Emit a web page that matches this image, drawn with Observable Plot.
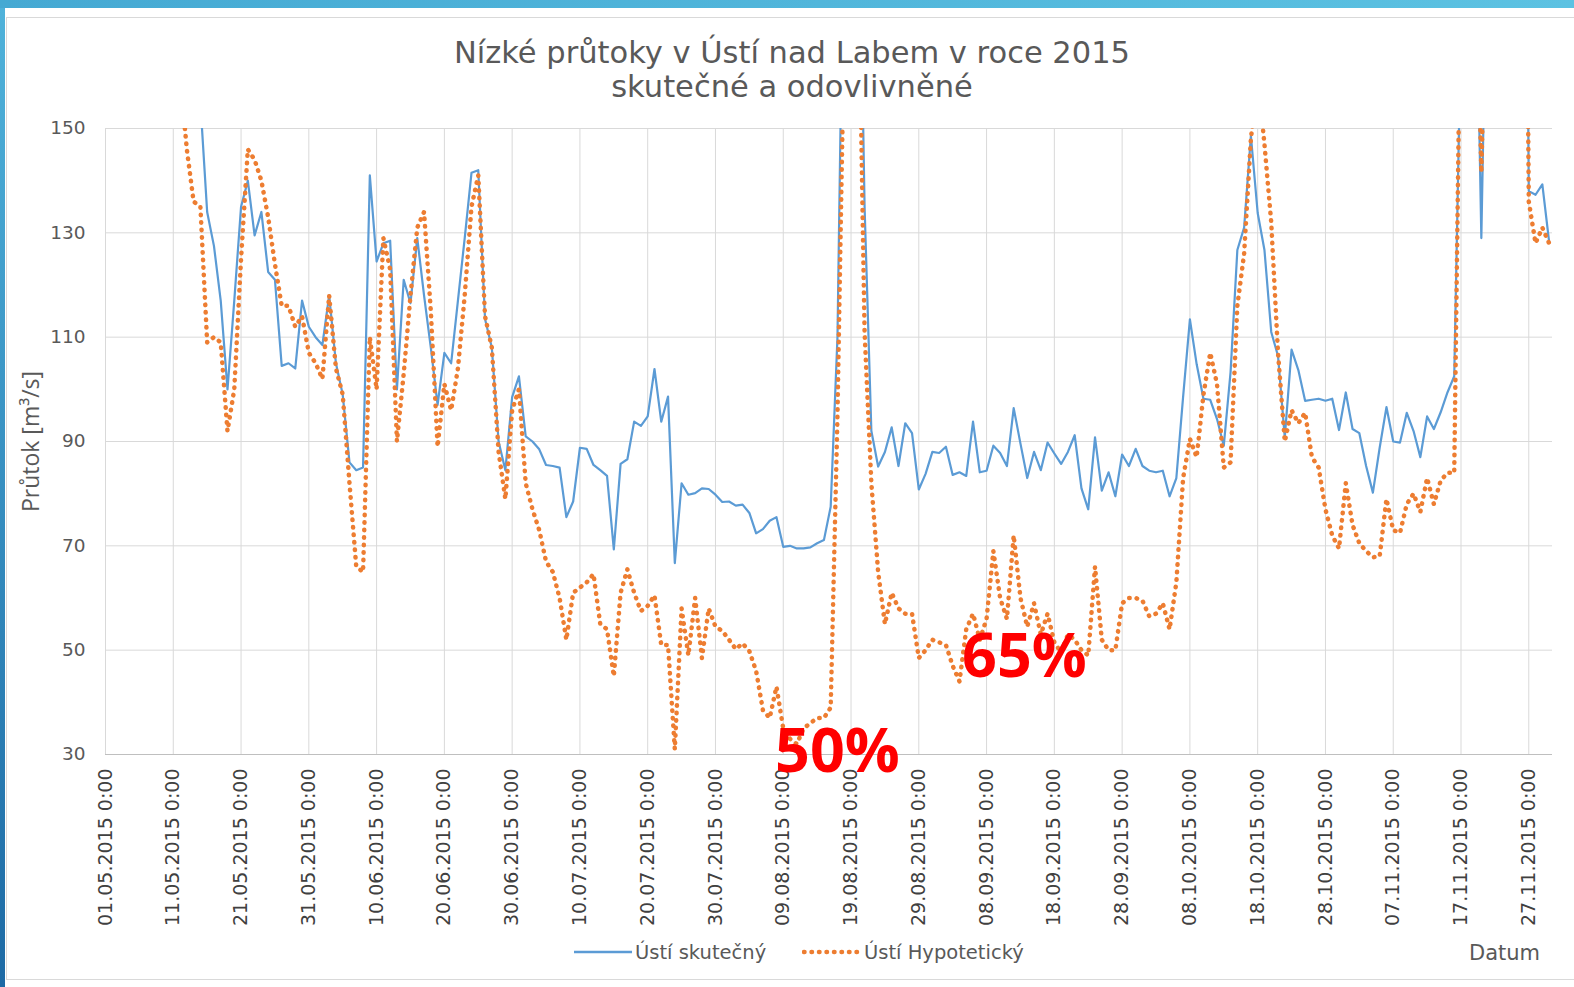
<!DOCTYPE html>
<html>
<head>
<meta charset="utf-8">
<script src="https://cdn.jsdelivr.net/npm/d3@7"></script>
<script src="https://cdn.jsdelivr.net/npm/@observablehq/plot@0.6"></script>
<style>
  html, body { margin: 0; padding: 0; background: #fff; }
  #page { position: relative; width: 1574px; height: 987px; overflow: hidden; background: #fff; font-family: "DejaVu Sans", Verdana, sans-serif; }
  #band { position: absolute; left: 0; top: 0; width: 1574px; height: 8px; background: linear-gradient(90deg, #45a9d3, #5cc2e2); }
  #strip { position: absolute; left: 0; top: 8px; width: 5px; height: 979px; background: linear-gradient(180deg, #4fb2da, #1d6aa5); }
  #panel { position: absolute; left: 6px; top: 17px; width: 1580px; height: 963px; border: 1px solid #d9d9d9; box-sizing: border-box; }
  #title { position: absolute; left: 0; width: 1584px; top: 36px; text-align: center; color: #595959; font-size: 30.5px; line-height: 34px; }
  #chart { position: absolute; left: 0; top: 100px; }
  .leg { position: absolute; top: 940px; height: 24px; display: flex; align-items: center; color: #595959; font-size: 19.5px; }
  #datum { position: absolute; top: 941px; left: 1469px; color: #595959; font-size: 21px; }
</style>
</head>
<body>
<div id="page">
  <div id="band"></div>
  <div id="strip"></div>
  <div id="panel"></div>
  <div id="title">Nízké průtoky v Ústí nad Labem v roce 2015<br>skutečné a odovlivněné</div>
  <div id="chart"></div>
  <div class="leg" style="left:574px"><svg width="61" height="10"><line x1="0" y1="5" x2="58" y2="5" stroke="#5B9BD5" stroke-width="2.5"/></svg><span>Ústí skutečný</span></div>
  <div class="leg" style="left:802px"><svg width="62" height="10"><line x1="2" y1="5" x2="58" y2="5" stroke="#ED7D31" stroke-width="4.5" stroke-dasharray="0.5 7" stroke-linecap="round"/></svg><span>Ústí Hypotetický</span></div>
  <div id="datum">Datum</div>
</div>
<script>
// ---- Data (daily flows, m3/s) ----
const monthStarts = ["2015-05-01", "2015-06-01", "2015-07-01", "2015-08-01", "2015-09-01", "2015-10-01", "2015-11-01"];

const skutecnyKveten = [null,null,null,null,null,null,null,null,null,null,null,null,null,
  165,155,134,127.5,117,100,117,135,140,129.5,134,122.5,121,104.5,105,104,117,112];
const skutecnyCerven = [110,108.5,118,105,99,86,84.5,85,141,124.5,128,128.5,100,121,116.5,129,118,108,97,107,
  105,117,129,141.5,142,113.5,108,90,84.5,98.5];
const skutecnyCervenec = [102.5,91,90,88.5,85.5,85.3,85,75.5,78.5,88.8,88.6,85.5,84.5,83.4,69.3,85.7,86.6,93.8,93,94.8,
  103.9,93.8,98.6,66.7,82,79.8,80.1,81,80.9,79.8,78.4];
const skutecnySrpen = [78.5,77.7,77.9,76.3,72.4,73.2,74.8,75.5,69.8,70,69.5,69.5,69.7,70.5,71.1,77.5,110,200,230,210,
  135,92,85.2,88,92.7,85.3,93.5,91.6,80.8,83.8,88];
const skutecnyZari = [87.8,89,83.6,84.1,83.4,93.8,84.1,84.4,89.2,87.8,85.3,96.4,89.6,83,88,84.5,89.8,87.7,85.7,88,
  91.2,81,77,90.8,80.6,84.1,79.5,87.5,85.3,88.6];
const skutecnyRijen = [85.3,84.4,84.1,84.4,79.5,83,98.6,113.4,104.8,98.2,98,94.3,89.2,103.3,126.7,131,148.6,133.8,126.7,111,
  106.4,90.8,107.6,103.7,97.8,98,98.2,97.8,98.2,92.2,99.4];
const skutecnyListopad = [92.4,91.6,85.3,80.2,88.8,96.6,90,89.8,95.5,92,87,94.8,92.4,95.6,99.4,102.5,170,240,200,129,
  200,260,280,270,290,300,138,137.3,139.3,128.3];

const hypoKveten = [null,null,null,null,null,null,null,null,null,null,null,
  160,146,136,135,109,110,109,92,100,125,146,144,140,133,124,116,116,112,114,107];
const hypoCerven = [105,102,118,104,99,82,66,65,110,100,129,123,90,103,118,131,134,115,89,101,
  96,104,118,135,141,114,108,88,79,96];
const hypoCervenec = [100,82,77,73,67,65,60,52,61,62,63,64.6,55,54,45,61,65.5,61,57.5,58.5,
  60.5,51,51,31,58,49,60,48.5,58,54.5,53.7];
const hypoSrpen = [52,50.2,51.3,49.8,46,38.5,37,43,35,33,32,35,36,37,37,39,95,170,200,189,
  111,82,65,55,61,58,57,57,48.5,50,52];
const hypoZari = [51.5,51,47,44,54,57,52,56,69,60,56,72,60,54.5,59,53,57,51.5,49.5,53,
  52,50,49,66,52,50,50,59,60,60];
const hypoRijen = [59.5,56.5,57,59,54,63,83,90.5,87,99,107,101,85,86,116,126,148,160,147,132,
  107,90,96,93.5,95.5,87,85,77,72,69.5,82];
const hypoListopad = [74,70.5,69,67.8,68,79,73,72.5,78,80,76.5,83,78,82.5,84,84,185,240,200,141.6,
  200,260,280,270,290,300,136,128,131,128];

const xTickLabels = ["01.05.2015 0:00","11.05.2015 0:00","21.05.2015 0:00","31.05.2015 0:00","10.06.2015 0:00",
  "20.06.2015 0:00","30.06.2015 0:00","10.07.2015 0:00","20.07.2015 0:00","30.07.2015 0:00","09.08.2015 0:00",
  "19.08.2015 0:00","29.08.2015 0:00","08.09.2015 0:00","18.09.2015 0:00","28.09.2015 0:00","08.10.2015 0:00",
  "18.10.2015 0:00","28.10.2015 0:00","07.11.2015 0:00","17.11.2015 0:00","27.11.2015 0:00"];
const yTicks = [30, 50, 70, 90, 110, 130, 150];

const annotationLabels = ["50%", "65%"];
const annotationDates = ["2015-08-17T00:00", "2015-09-13T14:00"];
const annotationValues = [30.4, 48.6];

// ---- Build tables ----
const parseTick = d3.utcParse("%d.%m.%Y %H:%M");
const fmtTick = d3.utcFormat("%d.%m.%Y 0:00");
const tickDates = xTickLabels.map(parseTick);

function build(months, series) {
  const rows = [];
  months.forEach((arr, mi) => {
    const start = d3.utcParse("%Y-%m-%d")(monthStarts[mi]);
    arr.forEach((v, i) => {
      if (v != null) rows.push({date: d3.utcDay.offset(start, i), value: v, series});
    });
  });
  return rows;
}
const skutecny = build([skutecnyKveten, skutecnyCerven, skutecnyCervenec, skutecnySrpen, skutecnyZari, skutecnyRijen, skutecnyListopad], "Ústí skutečný");
const hypoteticky = build([hypoKveten, hypoCerven, hypoCervenec, hypoSrpen, hypoZari, hypoRijen, hypoListopad], "Ústí Hypotetický");
const annotations = annotationLabels.map((l, i) => ({label: l, date: d3.isoParse(annotationDates[i] + "Z"), value: annotationValues[i]}));

const chart = Plot.plot({
  width: 1574,
  height: 860,
  marginTop: 28,
  marginBottom: 206,
  marginLeft: 105,
  marginRight: 22,
  style: {fontFamily: "DejaVu Sans, Verdana, sans-serif", fontSize: "18px", color: "#595959", background: "transparent", overflow: "visible"},
  x: {type: "utc", domain: [parseTick("01.05.2015 0:00"), d3.isoParse("2015-11-30T12:00:00Z")]},
  y: {domain: [30, 150]},
  marks: [
    Plot.gridX(tickDates, {stroke: "#d9d9d9", strokeOpacity: 1, strokeWidth: 1}),
    Plot.gridY(yTicks, {stroke: "#d9d9d9", strokeOpacity: 1, strokeWidth: 1}),
    Plot.ruleY([30], {stroke: "#bfbfbf", strokeWidth: 1.2}),
    Plot.axisY({ticks: yTicks, tickSize: 0, tickPadding: 20, label: null, fontSize: 18.5, fill: "#595959"}),
    Plot.axisX({ticks: tickDates, tickFormat: fmtTick, tickRotate: -90, tickSize: 0, tickPadding: 14, label: null, fontSize: 19, fill: "#404040"}),
    Plot.lineY(skutecny, {x: "date", y: "value", stroke: "#5B9BD5", strokeWidth: 2.2, clip: true}),
    Plot.lineY(hypoteticky, {x: "date", y: "value", stroke: "#ED7D31", strokeWidth: 4.5, strokeDasharray: "0.5 7", strokeLinecap: "round", clip: true}),
    Plot.text(annotations, {x: "date", y: "value", text: "label", fill: "#ff0000", fontSize: 61, fontWeight: "bold", fontFamily: "Open Sans, Liberation Sans, sans-serif"}),
    Plot.text(["Průtok [m³/s]"], {frameAnchor: "left", textAnchor: "middle", dx: -74, rotate: -90, fontSize: 23, fill: "#595959", fontFamily: "Open Sans, sans-serif"})
  ]
});
document.getElementById("chart").appendChild(chart);
</script>
</body>
</html>
